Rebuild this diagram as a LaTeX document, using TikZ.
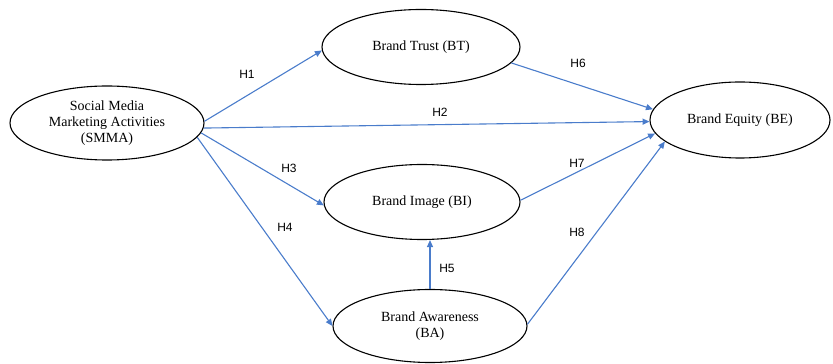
\documentclass[tikz,border=0pt]{standalone}
\usepackage{fontspec}
\setmainfont{Liberation Serif}
\setsansfont{Liberation Sans}
\usetikzlibrary{shapes.geometric, arrows.meta, calc}
\definecolor{hypblue}{HTML}{4A7CCB}

\tikzset{
  construct/.style={draw, ellipse, line width=1.1pt, inner sep=0pt, align=center,
    font=\fontsize{14}{16}\selectfont},
  hyparrow/.style={draw=hypblue, line width=1.1pt, -{Triangle[length=7pt,width=6pt]}, fill=none},
  hyplabel/.style={font=\sffamily\fontsize{12}{14}\selectfont}
}

\begin{document}
\begin{tikzpicture}[x=1pt, y=1pt]
  \useasboundingbox (0,0) rectangle (833,364);

  % Constructs
  \node[construct, minimum width=194pt, minimum height=74pt] (smma) at (107,241)
    {Social Media\\Marketing Activities\\(SMMA)};
  \node[construct, minimum width=198pt, minimum height=75pt] (bt) at (421,317) {Brand Trust (BT)};
  \node[construct, minimum width=196pt, minimum height=75pt] (bi) at (422,162) {Brand Image (BI)};
  \node[construct, minimum width=194pt, minimum height=73pt] (ba) at (430,38) {Brand Awareness\\(BA)};
  \node[construct, minimum width=180pt, minimum height=76pt] (be) at (740,244) {Brand Equity (BE)};

  % Hypotheses
  \draw[hyparrow] (smma.1) -- (bt.182);
  \draw[hyparrow] (smma.-3) -- (be.181);
  \draw[hyparrow] (smma.-6) -- (bi.182);
  \draw[hyparrow] (smma.-9) -- (ba.180);
  \draw[hyparrow] (ba.north) -- (ba.north |- bi.south);
  \draw[hyparrow] (bt.-10) -- (be.173);
  \draw[hyparrow] (bi.1) -- (be.189);
  \draw[hyparrow] (ba.1) -- (be.196);

  % Labels
  \node[hyplabel] (h1) at (247,290) {H1};
  \node[hyplabel] (h2) at (440,252) {H2};
  \node[hyplabel] (h3) at (289,196) {H3};
  \node[hyplabel] (h4) at (285,137) {H4};
  \node[hyplabel] (h5) at (447,96) {H5};
  \node[hyplabel] (h6) at (578,301) {H6};
  \node[hyplabel] (h7) at (577,201) {H7};
  \node[hyplabel] (h8) at (577,132) {H8};
\end{tikzpicture}
\end{document}
